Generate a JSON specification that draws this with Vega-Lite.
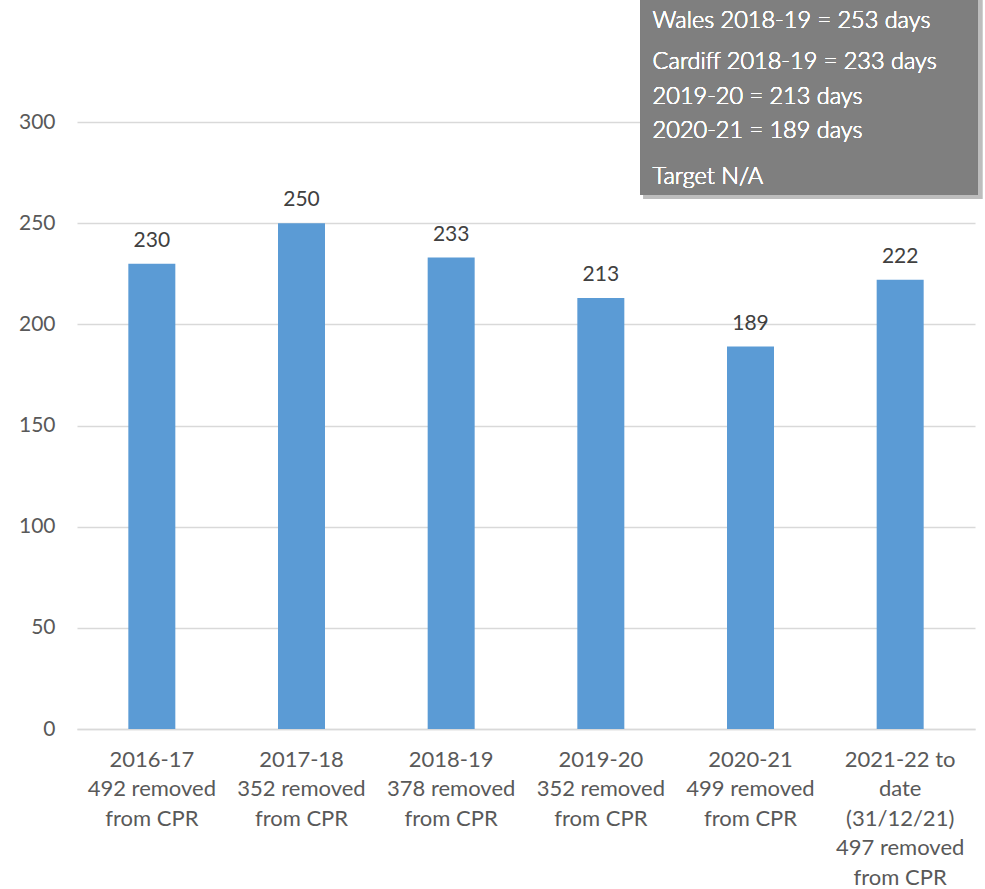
{
  "$schema": "https://vega.github.io/schema/vega-lite/v6.json",
  "width": 898,
  "height": 607,
  "autosize": {"type": "none"},
  "padding": {"left": 77, "top": 122, "right": 10, "bottom": 160},
  "config": {
    "view": {"stroke": null},
    "font": "Lato",
    "axis": {"labelFont": "Lato", "labelColor": "#595959", "labelFontSize": 21}
  },
  "data": {
    "values": [
      {"period": "2016-17\n492 removed\nfrom CPR", "days": 230},
      {"period": "2017-18\n352 removed\nfrom CPR", "days": 250},
      {"period": "2018-19\n378 removed\nfrom CPR", "days": 233},
      {"period": "2019-20\n352 removed\nfrom CPR", "days": 213},
      {"period": "2020-21\n499 removed\nfrom CPR", "days": 189},
      {"period": "2021-22 to\ndate\n(31/12/21)\n497 removed\nfrom CPR", "days": 222}
    ]
  },
  "resolve": {"scale": {"x": "independent"}},
  "layer": [
    {
      "mark": {"type": "bar", "color": "#5b9bd5"},
      "encoding": {
        "x": {
          "field": "period", "type": "nominal", "sort": null,
          "scale": {"paddingInner": 0.686, "paddingOuter": 0.343},
          "axis": {
            "title": null, "labelAngle": 0, "ticks": false,
            "domainColor": "#d9d9d9", "domainWidth": 1.3,
            "labelPadding": 20, "labelLineHeight": 29.5, "labelLimit": 0,
            "labelFontSize": 22,
            "labelExpr": "split(datum.label, '\\n')"
          }
        },
        "y": {
          "field": "days", "type": "quantitative",
          "scale": {"domain": [0, 300], "nice": false},
          "axis": {
            "title": null, "values": [0, 50, 100, 150, 200, 250, 300],
            "ticks": false, "domain": false, "labelPadding": 22,
            "gridColor": "#d9d9d9", "gridWidth": 1.3
          }
        }
      }
    },
    {
      "mark": {"type": "text", "baseline": "alphabetic", "dy": -17, "fontSize": 21, "color": "#404040"},
      "encoding": {
        "x": {"field": "period", "type": "nominal", "sort": null,
          "scale": {"paddingInner": 0.686, "paddingOuter": 0.343}, "axis": null},
        "y": {"field": "days", "type": "quantitative"},
        "text": {"field": "days", "type": "quantitative"}
      }
    },
    {
      "mark": {"type": "rect", "color": "#bdbdbd", "clip": false},
      "encoding": {
        "x": {"datum": 0.631, "type": "quantitative", "scale": {"domain": [0, 1]}, "axis": null},
        "x2": {"datum": 1.008},
        "y": {"datum": 262},
        "y2": {"datum": 362}
      }
    },
    {
      "mark": {"type": "rect", "color": "#7f7f7f", "clip": false},
      "encoding": {
        "x": {"datum": 0.627, "type": "quantitative", "scale": {"domain": [0, 1]}, "axis": null},
        "x2": {"datum": 1.003},
        "y": {"datum": 264},
        "y2": {"datum": 362}
      }
    },
    {
      "mark": {"type": "text", "align": "left", "baseline": "alphabetic", "fontSize": 23.5, "fontWeight": 300, "color": "#ffffff", "text": "Wales 2018-19 = 253 days"},
      "encoding": {
        "x": {"datum": 0.641, "type": "quantitative", "scale": {"domain": [0, 1]}, "axis": null},
        "y": {"datum": 346.5}
      }
    },
    {
      "mark": {"type": "text", "align": "left", "baseline": "alphabetic", "fontSize": 23.5, "fontWeight": 300, "color": "#ffffff", "text": "Cardiff 2018-19 = 233 days"},
      "encoding": {
        "x": {"datum": 0.641, "type": "quantitative", "scale": {"domain": [0, 1]}, "axis": null},
        "y": {"datum": 326.3}
      }
    },
    {
      "mark": {"type": "text", "align": "left", "baseline": "alphabetic", "fontSize": 23.5, "fontWeight": 300, "color": "#ffffff", "text": "2019-20 = 213 days"},
      "encoding": {
        "x": {"datum": 0.641, "type": "quantitative", "scale": {"domain": [0, 1]}, "axis": null},
        "y": {"datum": 309}
      }
    },
    {
      "mark": {"type": "text", "align": "left", "baseline": "alphabetic", "fontSize": 23.5, "fontWeight": 300, "color": "#ffffff", "text": "2020-21 = 189 days"},
      "encoding": {
        "x": {"datum": 0.641, "type": "quantitative", "scale": {"domain": [0, 1]}, "axis": null},
        "y": {"datum": 292}
      }
    },
    {
      "mark": {"type": "text", "align": "left", "baseline": "alphabetic", "fontSize": 23.5, "fontWeight": 300, "color": "#ffffff", "text": "Target N/A"},
      "encoding": {
        "x": {"datum": 0.641, "type": "quantitative", "scale": {"domain": [0, 1]}, "axis": null},
        "y": {"datum": 269.4}
      }
    }
  ]
}
